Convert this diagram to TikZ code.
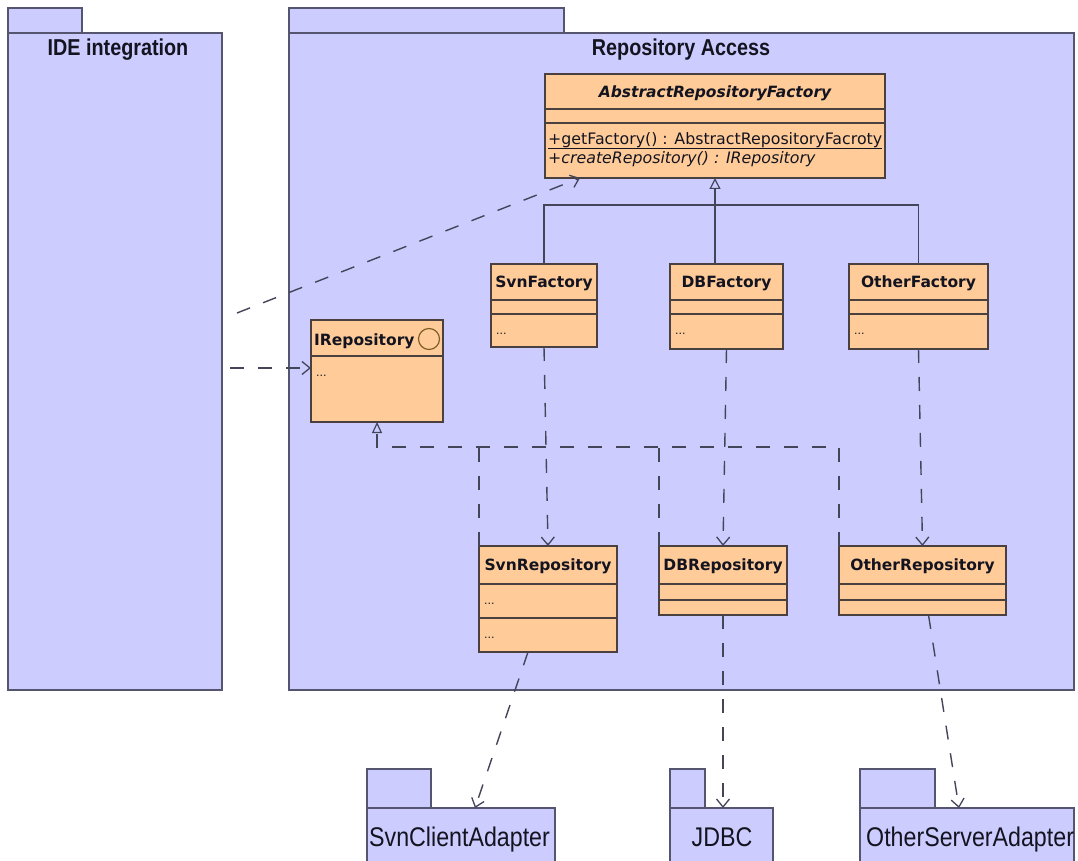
\documentclass[tikz,border=0pt]{standalone}
\usepackage{fontspec}
\setmainfont{DejaVu Sans}
\newfontfamily\pkgfont[FakeStretch=0.86]{Liberation Sans}
\usetikzlibrary{arrows.meta}
\definecolor{pkgfill}{HTML}{CCCCFF}
\definecolor{pkgline}{HTML}{555570}
\definecolor{clsfill}{HTML}{FFCC99}
\definecolor{clsline}{HTML}{4A4040}
\definecolor{conn}{HTML}{45455A}
\definecolor{txt}{HTML}{141420}
\definecolor{icon}{HTML}{80602A}

\begin{document}
\begin{tikzpicture}[x=1pt,y=-1pt,
  ulbox/.style={anchor=north west, inner sep=0pt, outer sep=0pt},
  pkg/.style={ulbox, draw=pkgline, fill=pkgfill, line width=1.3pt},
  cls/.style={ulbox, draw=clsline, fill=clsfill, line width=1.3pt},
  sepline/.style={draw=clsline, line width=1.3pt},
  solidline/.style={draw=conn, line width=1.3pt},
  dashline/.style={draw=conn, line width=1.4pt, dash pattern=on 14pt off 14pt},
  dep/.style={dashline, -{Straight Barb[length=8pt,width=13pt,line width=1.3pt]}},
  gen/.style={solidline, -{Triangle[open,length=11pt,width=11pt,line width=1.2pt]}},
  realz/.style={dashline, -{Triangle[open,length=11pt,width=10pt,line width=1.2pt]}},
  pkgtitle/.style={font=\pkgfont\bfseries\fontsize{23}{26}\selectfont, text=txt, inner sep=0pt, anchor=base},
  pkgname/.style={font=\pkgfont\fontsize{27}{30}\selectfont, text=txt, inner sep=0pt, anchor=base west},
  cname/.style={font=\bfseries\fontsize{15.5}{18}\selectfont, text=txt, inner sep=0pt, anchor=base},
  member/.style={font=\fontsize{15.8}{18}\selectfont, text=txt, inner sep=0pt, anchor=base west},
  dots/.style={font=\fontsize{11}{13}\selectfont, text=txt, inner sep=0pt, anchor=base west}
]
\fill[white] (0,0) rectangle (1078,861);
\useasboundingbox (0,0) rectangle (1078,861);

% ---- packages ----
\node[pkg, minimum width=74pt, minimum height=25pt] (ide-tab) at (8,8) {};
\node[pkg, minimum width=214pt, minimum height=657pt] (ide) at (8,33) {};
\node[pkgtitle] (ide-title) at (118,56) {IDE integration};

\node[pkg, minimum width=275pt, minimum height=25pt] (repo-tab) at (289,8) {};
\node[pkg, minimum width=785pt, minimum height=657pt] (repo) at (289,33) {};
\node[pkgtitle] (repo-title) at (681,56) {Repository Access};

\node[pkg, minimum width=64pt, minimum height=39pt] (sca-tab) at (367,769) {};
\node[pkg, minimum width=188pt, minimum height=62pt] (sca) at (367,808) {};
\node[pkgname] (sca-title) at (369,846) {SvnClientAdapter};

\node[pkg, minimum width=35pt, minimum height=39pt] (jdbc-tab) at (670,769) {};
\node[pkg, minimum width=103pt, minimum height=62pt] (jdbc) at (670,808) {};
\node[pkgname, anchor=base] (jdbc-title) at (722,846) {JDBC};

\node[pkg, minimum width=75pt, minimum height=39pt] (osa-tab) at (860,769) {};
\node[pkg, minimum width=214pt, minimum height=62pt] (osa) at (860,808) {};
\node[pkgname] (osa-title) at (866,846) {OtherServerAdapter};

% ---- classes ----
% AbstractRepositoryFactory
\node[cls, minimum width=340pt, minimum height=104pt] (arf) at (545,74) {};
\draw[sepline] ([yshift=-35pt]arf.north west) -- ([yshift=-35pt]arf.north east);
\draw[sepline] ([yshift=-49pt]arf.north west) -- ([yshift=-49pt]arf.north east);
\node[cname, font=\bfseries\itshape\fontsize{15.5}{18}\selectfont] (arf-name) at (715,97.5) {AbstractRepositoryFactory};
\node[member] (arf-m1) at (548,145) {+getFactory() : AbstractRepositoryFacroty};
\draw[draw=txt, line width=0.8pt] ([yshift=-3pt]arf-m1.base west) -- ([yshift=-3pt]arf-m1.base east);
\node[member, font=\itshape\fontsize{15.8}{18}\selectfont] (arf-m2) at (548,164) {+createRepository() : IRepository};

% IRepository
\node[cls, minimum width=132pt, minimum height=102pt] (irep) at (311,320) {};
\draw[sepline] ([yshift=-36pt]irep.north west) -- ([yshift=-36pt]irep.north east);
\node[cname, anchor=base west] (irep-name) at (314,345) {IRepository};
\node[draw=icon, line width=1.2pt, circle, minimum size=21pt, inner sep=0pt] (irep-icon) at (429,339) {};
\node[dots] (irep-dots) at (316,376) {...};

% factories
\node[cls, minimum width=106pt, minimum height=83pt] (svnf) at (491,264) {};
\draw[sepline] ([yshift=-36pt]svnf.north west) -- ([yshift=-36pt]svnf.north east);
\draw[sepline] ([yshift=-50pt]svnf.north west) -- ([yshift=-50pt]svnf.north east);
\node[cname] (svnf-name) at (544,287.5) {SvnFactory};
\node[dots] (svnf-dots) at (496,334) {...};

\node[cls, minimum width=113pt, minimum height=85pt] (dbf) at (670,264) {};
\draw[sepline] ([yshift=-36pt]dbf.north west) -- ([yshift=-36pt]dbf.north east);
\draw[sepline] ([yshift=-50pt]dbf.north west) -- ([yshift=-50pt]dbf.north east);
\node[cname] (dbf-name) at (726.5,287.5) {DBFactory};
\node[dots] (dbf-dots) at (675,334) {...};

\node[cls, minimum width=139pt, minimum height=85pt] (othf) at (849,264) {};
\draw[sepline] ([yshift=-36pt]othf.north west) -- ([yshift=-36pt]othf.north east);
\draw[sepline] ([yshift=-50pt]othf.north west) -- ([yshift=-50pt]othf.north east);
\node[cname] (othf-name) at (918.5,287.5) {OtherFactory};
\node[dots] (othf-dots) at (854,334) {...};

% repositories
\node[cls, minimum width=138pt, minimum height=106pt] (svnr) at (479,546) {};
\draw[sepline] ([yshift=-38pt]svnr.north west) -- ([yshift=-38pt]svnr.north east);
\draw[sepline] ([yshift=-72pt]svnr.north west) -- ([yshift=-72pt]svnr.north east);
\node[cname] (svnr-name) at (548,570.5) {SvnRepository};
\node[dots] (svnr-dots1) at (484,604) {...};
\node[dots] (svnr-dots2) at (484,638) {...};

\node[cls, minimum width=128pt, minimum height=69pt] (dbr) at (659,546) {};
\draw[sepline] ([yshift=-38pt]dbr.north west) -- ([yshift=-38pt]dbr.north east);
\draw[sepline] ([yshift=-54pt]dbr.north west) -- ([yshift=-54pt]dbr.north east);
\node[cname] (dbr-name) at (723,570.5) {DBRepository};

\node[cls, minimum width=167pt, minimum height=69pt] (othr) at (839,546) {};
\draw[sepline] ([yshift=-38pt]othr.north west) -- ([yshift=-38pt]othr.north east);
\draw[sepline] ([yshift=-54pt]othr.north west) -- ([yshift=-54pt]othr.north east);
\node[cname] (othr-name) at (922.5,570.5) {OtherRepository};

% ---- connectors ----
% generalisation of the factories
\coordinate (gj) at (715,205);
\draw[solidline] (svnf.north) |- (othf.north |- gj) -- (othf.north);
\draw[gen] (dbf.north -| gj) -- (arf.south -| gj);

% realisation of IRepository
\coordinate (rj) at (377,447);
\draw[realz] (othr.north west) |- (rj) -- (rj |- irep.south);
\draw[dashline] (svnr.north west) -- (svnr.north west |- rj);
\draw[dashline] (dbr.north west) -- (dbr.north west |- rj);

% factories create repositories
\draw[dep] (svnf.south) -- (svnr.north);
\draw[dep] (dbf.south) -- (dbr.north);
\draw[dep] (othf.south) -- (othr.north);

% repositories use the adapters
\draw[dep] ([xshift=-20pt]svnr.south) -- ([xshift=14pt]sca.north);
\draw[dep] (dbr.south) -- (dbr.south |- jdbc.north);
\draw[dep] ([xshift=6pt]othr.south) -- ([xshift=-8pt]osa.north);

% IDE integration uses the factory and the repository
\coordinate (ide-o1) at (237,313);
\coordinate (ide-o2) at (230,368);
\draw[dep] (ide-o1) -- ([xshift=35pt]arf.south west);
\draw[dep] (ide-o2) -- (ide-o2 -| irep.west);
\end{tikzpicture}
\end{document}
